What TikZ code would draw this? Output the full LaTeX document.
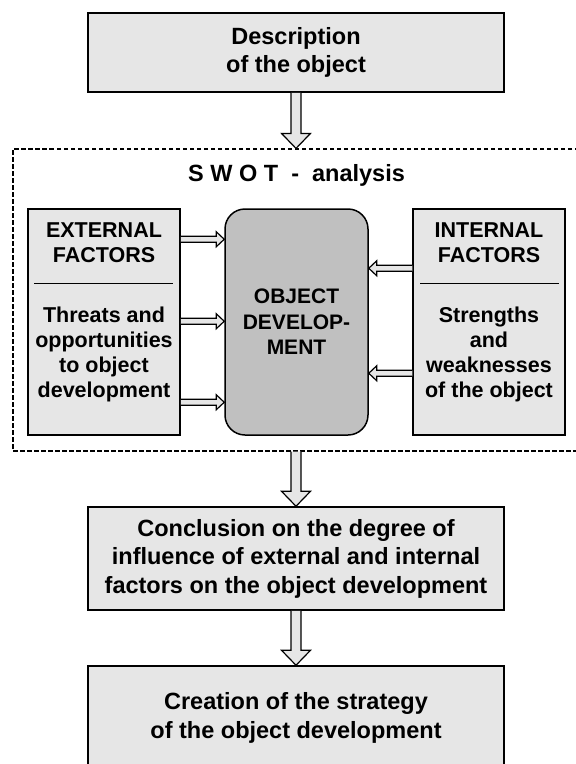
\documentclass[tikz,border=0pt]{standalone}
\usepackage{fontspec}
\setmainfont{Liberation Sans}
\usetikzlibrary{calc}
\definecolor{boxgray}{HTML}{E6E6E6}
\definecolor{midgray}{HTML}{C0C0C0}
\tikzset{
  box/.style={draw=black, line width=1.5pt, fill=boxgray, inner sep=0pt, align=center,
    font=\bfseries\fontsize{23.5}{28.5}\selectfont},
  corebox/.style={box, fill=midgray, rounded corners=20pt,
    font=\bfseries\fontsize{21}{25.5}\selectfont},
  sidetext/.style={align=center, anchor=base, inner sep=0pt,
    font=\bfseries\fontsize{21.5}{25}\selectfont},
  swotframe/.style={draw=black, line width=1.2pt, dash pattern=on 4.5pt off 2.5pt, inner sep=0pt},
  titletext/.style={anchor=base, inner sep=0pt, font=\bfseries\fontsize{23.5}{28}\selectfont},
  fatarrow/.style={draw=black, line width=1.2pt, fill=boxgray, line join=miter},
  sepline/.style={draw=black, line width=1.5pt}
}
\newcommand{\bigdownarrow}[2]{%
  \draw[fatarrow] let \p1=(#1.south), \p2=(#2.north) in
   (\x1-5pt,\y1) -- (\x1-5pt,\y2+15pt) -- (\x1-14.5pt,\y2+15pt) -- (\x1,\y2)
   -- (\x1+14.5pt,\y2+15pt) -- (\x1+5pt,\y2+15pt) -- (\x1+5pt,\y1);}
\newcommand{\rightfat}[3]{%
  \draw[fatarrow] let \p1=($(#1.north east)+(0,#3)$), \p2=(#2.west) in
   (\x1,\y1+3pt) -- (\x2-8pt,\y1+3pt) -- (\x2-8pt,\y1+7.5pt) -- (\x2,\y1)
   -- (\x2-8pt,\y1-7.5pt) -- (\x2-8pt,\y1-3pt) -- (\x1,\y1-3pt);}
\newcommand{\leftfat}[3]{%
  \draw[fatarrow] let \p1=($(#1.north west)+(0,#3)$), \p2=(#2.east) in
   (\x1,\y1+3pt) -- (\x2+8pt,\y1+3pt) -- (\x2+8pt,\y1+7.5pt) -- (\x2,\y1)
   -- (\x2+8pt,\y1-7.5pt) -- (\x2+8pt,\y1-3pt) -- (\x1,\y1-3pt);}
\begin{document}
\begin{tikzpicture}[x=1pt,y=-1pt]
\useasboundingbox (0,0) rectangle (576,764);
% SWOT frame
\node[swotframe, minimum width=566pt, minimum height=302pt] (swot) at (296,300) {};
\node[titletext] (title) at (296.5,181) {S W O T\ \ -\ \ analysis};
% top box
\node[box, minimum width=416pt, minimum height=79pt] (desc) at (296,52.5) {Description\\of the object};
% side boxes
\node[box, minimum width=152pt, minimum height=226pt] (ext) at (104,322) {};
\node[box, minimum width=152pt, minimum height=226pt] (int) at (489,322) {};
\node[corebox, minimum width=143pt, minimum height=226pt] (core) at (296.5,322) {OBJECT\\DEVELOP-\\MENT};
\node[sidetext] (exthead) at (104,262) {EXTERNAL\\FACTORS};
\node[sidetext] (extbody) at (104,397) {Threats and\\opportunities\\to object\\development};
\node[sidetext] (inthead) at (489,262) {INTERNAL\\FACTORS};
\node[sidetext] (intbody) at (489,397) {Strengths\\and\\weaknesses\\of the object};
\draw[sepline] ($(ext.north west)+(7,75)$) -- ($(ext.north east)+(-8,75)$);
\draw[sepline] ($(int.north west)+(8,75)$) -- ($(int.north east)+(-7,75)$);
% lower boxes
\node[box, minimum width=416pt, minimum height=103pt] (concl) at (296,558.5) {Conclusion on the degree of\\influence of external and internal\\factors on the object development};
\node[box, minimum width=416pt, minimum height=104pt] (strat) at (296,718) {Creation of the strategy\\of the object development};
% arrows
\bigdownarrow{desc}{swot}
\bigdownarrow{swot}{concl}
\bigdownarrow{concl}{strat}
\rightfat{ext}{core}{31}
\rightfat{ext}{core}{113}
\rightfat{ext}{core}{194}
\leftfat{int}{core}{60}
\leftfat{int}{core}{165}
\end{tikzpicture}
\end{document}
